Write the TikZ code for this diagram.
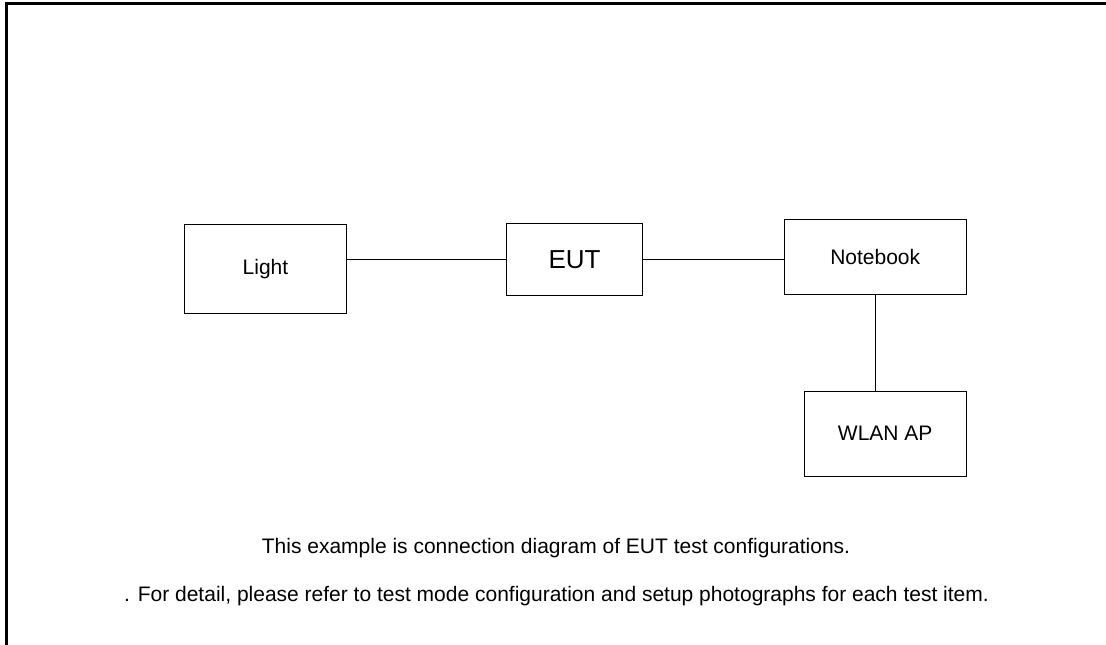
\documentclass[tikz,border=0pt]{standalone}
\usepackage{fontspec}
\setmainfont{Liberation Sans}
\begin{document}
\begin{tikzpicture}[x=1pt, y=-1pt,
    unitbox/.style={draw, line width=1.2pt, inner sep=0pt, font=\fontsize{21}{25}\selectfont},
    link/.style={line width=1.4pt},
    note/.style={inner sep=0pt, font=\fontsize{21}{25}\selectfont}]
    \useasboundingbox (0,0) rectangle (1106,645);
    \draw[line width=2.5pt] (1106,3.5) -- (6.5,3.5) -- (6.5,645);

    \node[unitbox, minimum width=162pt, minimum height=89pt] (light) at (265.5,268.7) {Light};
    \node[unitbox, minimum width=136pt, minimum height=72pt, font=\fontsize{26}{30}\selectfont] (eut) at (574.5,259.5) {EUT};
    \node[unitbox, minimum width=182pt, minimum height=75pt] (nb) at (875.2,256.8) {Notebook};
    \node[unitbox, minimum width=162pt, minimum height=85pt] (wlan) at (885.2,433.7) {WLAN AP};

    \draw[link] (eut.west) -- (eut.west -| light.east);
    \draw[link] (eut.east) -- (eut.east -| nb.west);
    \draw[link] (nb.south) -- (nb.south |- wlan.north);

    \node[note] (line1) at (556,548) {This example is connection diagram of EUT test configurations.};
    \node[note] (line2) at (556.5,596) {. For detail, please refer to test mode configuration and setup photographs for each test item.};
\end{tikzpicture}
\end{document}
